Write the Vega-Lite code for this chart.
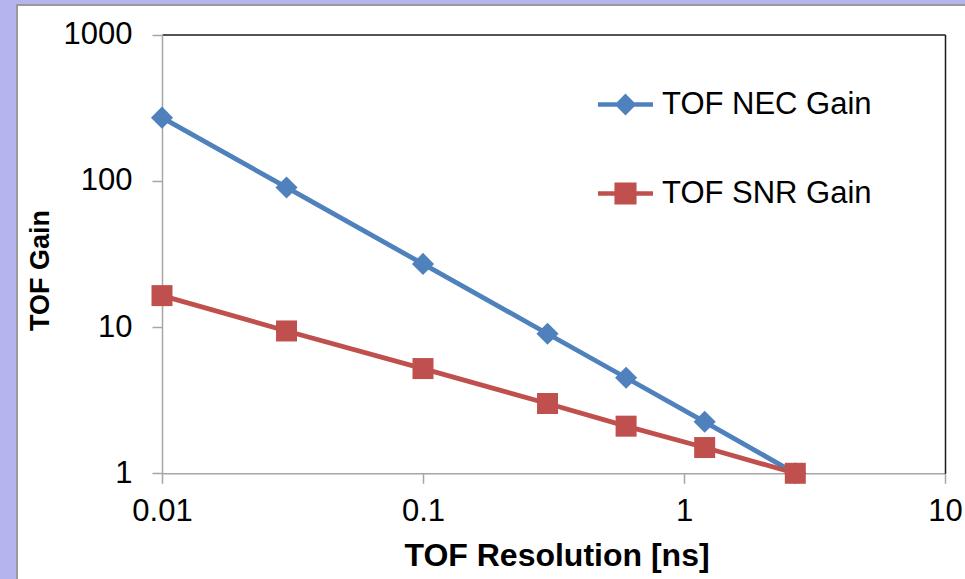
{
  "$schema": "https://vega.github.io/schema/vega-lite/v6.json",
  "width": 950,
  "height": 576,
  "autosize": {"type": "none"},
  "padding": {"left": 17, "top": 5, "right": 0, "bottom": 0},
  "background": "#b4b4ee",
  "config": {
    "view": {"fill": "white", "stroke": "#9a9a9a", "strokeWidth": 2},
    "font": "Liberation Sans",
    "axis": {
      "grid": false,
      "labelFont": "Liberation Sans",
      "labelFontSize": 31,
      "labelColor": "black",
      "titleFont": "Liberation Sans",
      "titleColor": "black",
      "titleFontWeight": "bold",
      "domainColor": "#a6a6a6",
      "domainWidth": 1.5,
      "tickColor": "#a6a6a6",
      "tickWidth": 1.5,
      "tickSize": 10,
      "labelOverlap": false,
      "labelFlush": false,
      "labelBound": false
    }
  },
  "data": {
    "values": [
      {"series": "TOF NEC Gain", "resolution": 0.01, "gain": 270},
      {"series": "TOF NEC Gain", "resolution": 0.03, "gain": 90},
      {"series": "TOF NEC Gain", "resolution": 0.1, "gain": 27},
      {"series": "TOF NEC Gain", "resolution": 0.3, "gain": 9},
      {"series": "TOF NEC Gain", "resolution": 0.6, "gain": 4.5},
      {"series": "TOF NEC Gain", "resolution": 1.2, "gain": 2.25},
      {"series": "TOF NEC Gain", "resolution": 2.67, "gain": 1},
      {"series": "TOF SNR Gain", "resolution": 0.01, "gain": 16.4},
      {"series": "TOF SNR Gain", "resolution": 0.03, "gain": 9.4},
      {"series": "TOF SNR Gain", "resolution": 0.1, "gain": 5.2},
      {"series": "TOF SNR Gain", "resolution": 0.3, "gain": 3.0},
      {"series": "TOF SNR Gain", "resolution": 0.6, "gain": 2.1},
      {"series": "TOF SNR Gain", "resolution": 1.2, "gain": 1.5},
      {"series": "TOF SNR Gain", "resolution": 2.67, "gain": 1}
    ]
  },
  "layer": [
    {
      "mark": {"type": "line", "strokeWidth": 4.8},
      "encoding": {
        "x": {
          "field": "resolution", "type": "quantitative",
          "scale": {"type": "log", "domain": [0.01, 10], "range": [145, 928], "nice": false},
          "axis": {
            "orient": "bottom", "offset": -107.7,
            "values": [0.01, 0.1, 1, 10], "format": ".2~f",
            "labelPadding": 13,
            "title": "TOF Resolution [ns]", "titleFontSize": 32,
            "titleX": 539.5, "titleY": 91.7, "titleBaseline": "alphabetic", "titleAlign": "center"
          }
        },
        "y": {
          "field": "gain", "type": "quantitative",
          "scale": {"type": "log", "domain": [1, 1000], "range": [468.3, 29.5], "nice": false},
          "axis": {
            "orient": "left", "offset": -145,
            "values": [1, 10, 100, 1000], "format": "d",
            "labelPadding": 20,
            "title": "TOF Gain", "titleFontSize": 27,
            "titleX": -113.7, "titleY": 265, "titleBaseline": "alphabetic", "titleAlign": "center", "titleAngle": -90
          }
        },
        "color": {
          "field": "series", "type": "nominal",
          "scale": {"domain": ["TOF NEC Gain", "TOF SNR Gain"], "range": ["#4f81bd", "#c0504d"]},
          "legend": {
            "orient": "none", "legendX": 593, "legendY": 84,
            "title": null, "padding": 0,
            "symbolSize": 484, "symbolStrokeWidth": 4.5,
            "labelFont": "Liberation Sans", "labelFontSize": 31, "labelColor": "black",
            "labelLimit": 400, "labelOffset": 21, "rowPadding": 53,
            "encode": {
              "symbols": {
                "update": {
                  "shape": {"signal": "datum.value === 'TOF NEC Gain' ? 'M-2.5,0H2.5M0,-0.7L0.7,0L0,0.7L-0.7,0Z' : 'M-2.5,0H2.5M-0.8,-0.8H0.8V0.8H-0.8Z'"}
                }
              }
            }
          }
        }
      }
    },
    {
      "transform": [{"filter": "datum.series === 'TOF NEC Gain'"}],
      "mark": {"type": "point", "shape": "diamond", "filled": true, "size": 490, "opacity": 1},
      "encoding": {
        "x": {
          "field": "resolution", "type": "quantitative",
          "axis": {"orient": "top", "offset": -29.5, "labels": false, "ticks": false, "title": null, "domainColor": "#1a1a1a", "domainWidth": 1.5}
        },
        "y": {
          "field": "gain", "type": "quantitative",
          "axis": {"orient": "right", "offset": -22, "labels": false, "ticks": false, "title": null, "domainColor": "#1a1a1a", "domainWidth": 1.5}
        },
        "color": {"field": "series", "type": "nominal"}
      }
    },
    {
      "transform": [{"filter": "datum.series === 'TOF SNR Gain'"}],
      "mark": {"type": "point", "shape": "square", "filled": true, "size": 441, "opacity": 1},
      "encoding": {
        "x": {"field": "resolution", "type": "quantitative", "axis": null},
        "y": {"field": "gain", "type": "quantitative", "axis": null},
        "color": {"field": "series", "type": "nominal"}
      }
    }
  ],
  "resolve": {"axis": {"x": "independent", "y": "independent"}}
}
